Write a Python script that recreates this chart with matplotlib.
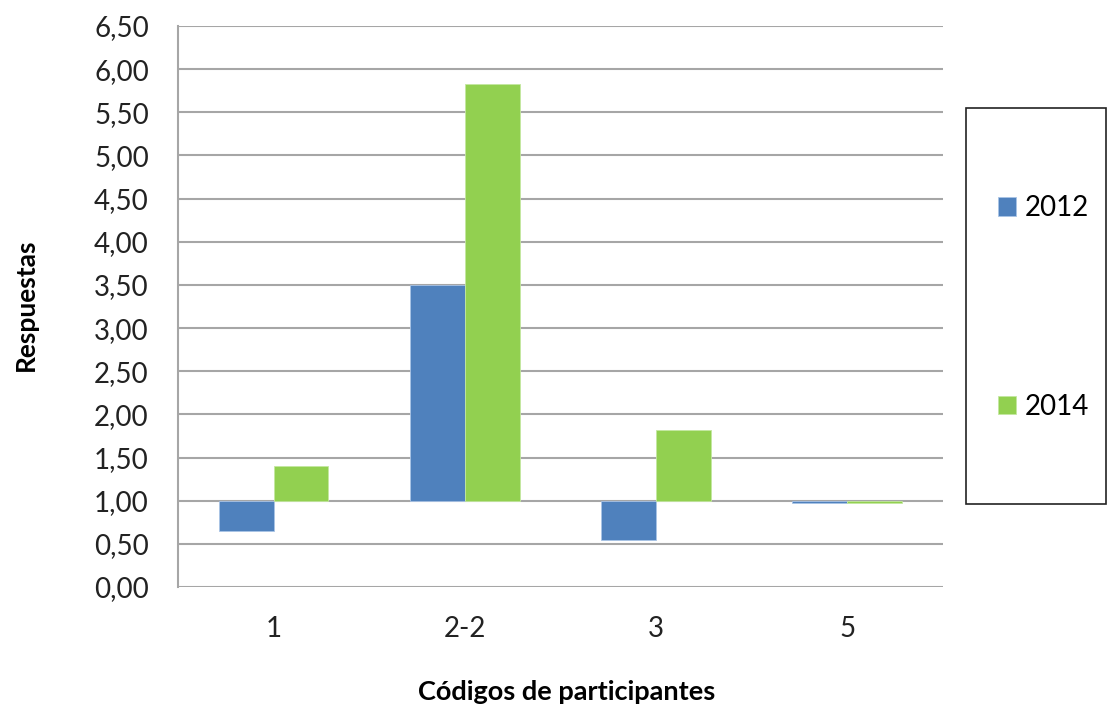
import numpy as np
import matplotlib.pyplot as plt
from matplotlib.patches import Rectangle
from matplotlib.ticker import FuncFormatter

# datos
participantes = ["1", "2-2", "3", "5"]
anios = ["2012", "2014"]
resp_2012 = [0.65, 3.50, 0.54, 0.97]
resp_2014 = [1.40, 5.83, 1.82, 0.97]
base = 1.0  # el eje horizontal cruza en 1,00

azul = "#4f81bd"
verde = "#92d050"
gris = "#a6a6a6"

plt.rcParams["font.family"] = ["Lato", "DejaVu Sans"]

fig = plt.figure(figsize=(11.08, 7.05), dpi=100)
ax = fig.add_axes([0.1606, 0.1674, 0.6904, 0.7957])

x = np.arange(len(participantes))
w = 0.287
ax.bar(x - w / 2, np.array(resp_2012) - base, w, bottom=base, color=azul,
       edgecolor="#a9c4e6", linewidth=0.6, label=anios[0], zorder=3)
ax.bar(x + w / 2, np.array(resp_2014) - base, w, bottom=base, color=verde,
       edgecolor="#c4e8a0", linewidth=0.6, label=anios[1], zorder=3)

ax.set_xlim(-0.5, len(participantes) - 0.5)
ax.set_ylim(0, 6.5)
ax.set_yticks(np.arange(0, 6.51, 0.5))
ax.yaxis.set_major_formatter(FuncFormatter(lambda v, p: f"{v:.2f}".replace(".", ",")))
ax.set_xticks(x)
ax.set_xticklabels(participantes)
ax.tick_params(axis="both", length=0, labelsize=20, colors="#222222")
ax.tick_params(axis="x", pad=21)
ax.tick_params(axis="y", pad=21)

ax.grid(axis="y", color=gris, linewidth=1.5, zorder=0)
for s in ["top", "right", "bottom"]:
    ax.spines[s].set_visible(False)
ax.spines["left"].set_color(gris)
ax.spines["left"].set_linewidth(1.5)

# titulos de ejes
fig.text(26 / 1108, 1 - 305 / 705, "Respuestas", rotation=90, fontsize=19,
         fontweight="bold", ha="center", va="center")
fig.text(567 / 1108, 1 - 700 / 705, "Códigos de participantes", fontsize=19.5,
         fontweight="bold", ha="center", va="baseline")

# caja de la leyenda
fig.patches.append(Rectangle((966 / 1108, 1 - 504 / 705), 140 / 1108, 396 / 705,
                             transform=fig.transFigure, fill=False,
                             edgecolor="#222222", linewidth=1.2))
leg = fig.legend(loc="center left", bbox_to_anchor=(998 / 1108, 1 - 307.5 / 705),
                 fontsize=20, frameon=False, borderpad=0, borderaxespad=0,
                 handlelength=0.65, handleheight=0.65, handletextpad=0.32,
                 labelspacing=6.2)

fig.savefig("out.png", dpi=100)
